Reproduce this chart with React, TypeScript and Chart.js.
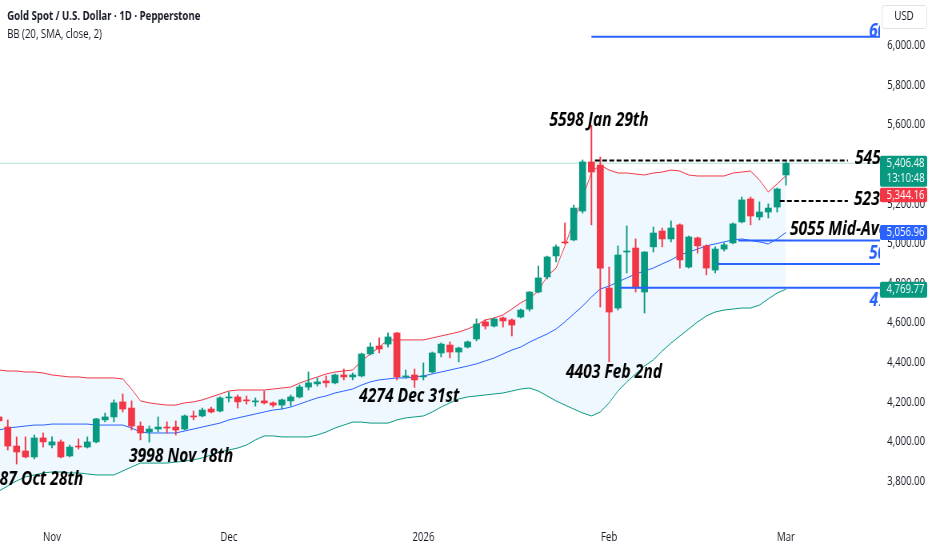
import React, { useEffect, useRef } from 'react';
import { Chart, registerables } from 'chart.js';

Chart.register(...registerables);

// ---------- data ----------
const dates = [
  '2025-10-24', '2025-10-27', '2025-10-28', '2025-10-29', '2025-10-30', '2025-10-31',
  '2025-11-03', '2025-11-04', '2025-11-05', '2025-11-06', '2025-11-07', '2025-11-10', '2025-11-11', '2025-11-12', '2025-11-13', '2025-11-14',
  '2025-11-17', '2025-11-18', '2025-11-19', '2025-11-20', '2025-11-21', '2025-11-24', '2025-11-25', '2025-11-26', '2025-11-27', '2025-11-28',
  '2025-12-01', '2025-12-02', '2025-12-03', '2025-12-04', '2025-12-05', '2025-12-08', '2025-12-09', '2025-12-10', '2025-12-11', '2025-12-12',
  '2025-12-15', '2025-12-16', '2025-12-17', '2025-12-18', '2025-12-19', '2025-12-22', '2025-12-23', '2025-12-24', '2025-12-26', '2025-12-29',
  '2025-12-30', '2025-12-31',
  '2026-01-02', '2026-01-05', '2026-01-06', '2026-01-07', '2026-01-08', '2026-01-09', '2026-01-12', '2026-01-13', '2026-01-14', '2026-01-15',
  '2026-01-16', '2026-01-19', '2026-01-20', '2026-01-21', '2026-01-22', '2026-01-23', '2026-01-26', '2026-01-27', '2026-01-28', '2026-01-29',
  '2026-01-30',
  '2026-02-02', '2026-02-03', '2026-02-04', '2026-02-05', '2026-02-06', '2026-02-09', '2026-02-10', '2026-02-11', '2026-02-12', '2026-02-13',
  '2026-02-16', '2026-02-17', '2026-02-18', '2026-02-19', '2026-02-20', '2026-02-23', '2026-02-24', '2026-02-25', '2026-02-26', '2026-02-27',
  '2026-03-02',
];

const opens = [
  4125, 4074, 3978, 3953, 3923, 4019, 3983, 3999, 3928, 3978,
  3973, 3999, 4110, 4125, 4201, 4170, 4079, 4049, 4064, 4074,
  4074, 4064, 4130, 4130, 4165, 4155, 4221, 4226, 4211, 4201,
  4206, 4196, 4185, 4206, 4226, 4276, 4292, 4307, 4297, 4337,
  4327, 4332, 4443, 4483, 4493, 4549, 4327, 4337, 4327, 4352,
  4448, 4488, 4453, 4478, 4519, 4605, 4584, 4625, 4615, 4630,
  4670, 4756, 4832, 4938, 5009, 5019, 5165, 5413, 5397, 4776,
  4675, 4958, 4978, 4756, 4984, 5064, 5024, 5095, 4882, 5029,
  4989, 4867, 4973, 5004, 5110, 5226, 5135, 5160, 5185, 5347,
];
const highs = [
  4145, 4110, 4024, 4024, 4034, 4044, 4024, 4009, 3983, 4014,
  4024, 4118, 4145, 4211, 4241, 4206, 4100, 4079, 4125, 4100,
  4105, 4135, 4155, 4170, 4175, 4226, 4251, 4236, 4231, 4221,
  4256, 4201, 4216, 4236, 4286, 4352, 4322, 4332, 4342, 4367,
  4347, 4448, 4499, 4524, 4549, 4552, 4362, 4367, 4398, 4453,
  4499, 4504, 4478, 4509, 4620, 4615, 4625, 4630, 4620, 4670,
  4758, 4887, 4938, 4994, 5105, 5195, 5423, 5598, 5438, 4882,
  4989, 5090, 5024, 4960, 5084, 5079, 5115, 5100, 5039, 5034,
  4994, 4984, 5004, 5105, 5236, 5236, 5211, 5201, 5281, 5413,
];
const lows = [
  4084, 3958, 3887, 3918, 3913, 3973, 3968, 3918, 3923, 3963,
  3968, 3994, 4100, 4100, 4150, 4059, 4009, 3998, 4049, 4044,
  4034, 4059, 4110, 4125, 4145, 4150, 4201, 4170, 4190, 4180,
  4190, 4175, 4165, 4180, 4221, 4261, 4281, 4276, 4292, 4312,
  4312, 4327, 4438, 4448, 4478, 4312, 4322, 4274, 4312, 4347,
  4428, 4423, 4403, 4473, 4509, 4569, 4579, 4579, 4534, 4625,
  4660, 4751, 4822, 4908, 4999, 5014, 5155, 5095, 4680, 4403,
  4665, 4852, 4756, 4650, 4958, 4984, 5009, 4877, 4877, 4953,
  4842, 4852, 4963, 4999, 5105, 5095, 5120, 5130, 5160, 5296,
];
const closes = [
  4105, 3978, 3948, 3923, 4019, 3999, 3999, 3923, 3973, 3973,
  3999, 4115, 4125, 4196, 4165, 4079, 4044, 4064, 4074, 4069,
  4059, 4130, 4125, 4160, 4150, 4221, 4226, 4201, 4206, 4206,
  4196, 4185, 4211, 4226, 4276, 4297, 4302, 4297, 4337, 4327,
  4337, 4443, 4478, 4468, 4529, 4327, 4332, 4312, 4332, 4448,
  4493, 4453, 4473, 4504, 4594, 4584, 4620, 4610, 4589, 4665,
  4756, 4827, 4933, 4984, 5004, 5180, 5413, 5362, 4877, 4655,
  4943, 4963, 4776, 4958, 5054, 5024, 5079, 4918, 5034, 4989,
  4877, 4973, 4994, 5100, 5221, 5140, 5160, 5180, 5276, 5406.48,
];

// Bollinger Bands (20, SMA, close, 2)
const bbUpper = [
  4362, 4357, 4357, 4352, 4352, 4347, 4337, 4332, 4327, 4327,
  4322, 4322, 4322, 4322, 4317, 4266, 4206, 4196, 4190, 4185,
  4185, 4196, 4201, 4211, 4226, 4241, 4256, 4261, 4261, 4261,
  4261, 4266, 4271, 4276, 4296, 4312, 4327, 4342, 4352, 4357,
  4362, 4408, 4443, 4478, 4514, 4514, 4514, 4514, 4514, 4524,
  4534, 4544, 4554, 4569, 4589, 4615, 4625, 4640, 4670, 4701,
  4726, 4761, 4837, 4877, 4988, 5115, 5226, 5362, 5397, 5372,
  5357, 5357, 5352, 5347, 5357, 5362, 5372, 5367, 5347, 5342,
  5342, 5342, 5342, 5357, 5362, 5367, 5322, 5261, 5302, 5344.16,
];
const bbBasis = [
  4059, 4069, 4074, 4079, 4084, 4084, 4089, 4089, 4089, 4089,
  4089, 4084, 4084, 4084, 4084, 4069, 4049, 4044, 4044, 4044,
  4044, 4054, 4064, 4074, 4084, 4094, 4110, 4120, 4130, 4140,
  4150, 4160, 4165, 4175, 4190, 4206, 4221, 4231, 4246, 4256,
  4266, 4286, 4302, 4312, 4317, 4322, 4322, 4327, 4332, 4342,
  4352, 4362, 4372, 4382, 4393, 4408, 4423, 4443, 4463, 4478,
  4503, 4524, 4544, 4569, 4605, 4645, 4685, 4731, 4771, 4786,
  4807, 4827, 4847, 4862, 4877, 4898, 4918, 4943, 4958, 4973,
  4989, 4999, 5009, 5019, 5024, 5016, 5009, 4999, 5024, 5056.96,
];
const bbLower = [
  3751, 3776, 3802, 3822, 3832, 3842, 3847, 3847, 3842, 3842,
  3837, 3832, 3832, 3832, 3852, 3872, 3892, 3892, 3892, 3892,
  3897, 3902, 3908, 3918, 3933, 3948, 3958, 3968, 3983, 4009,
  4029, 4029, 4024, 4024, 4024, 4024, 4034, 4049, 4069, 4084,
  4099, 4099, 4094, 4094, 4094, 4110, 4120, 4125, 4130, 4150,
  4175, 4196, 4216, 4226, 4231, 4236, 4241, 4246, 4256, 4266,
  4271, 4256, 4231, 4206, 4185, 4165, 4145, 4130, 4150, 4196,
  4256, 4302, 4342, 4382, 4413, 4458, 4498, 4534, 4569, 4605,
  4635, 4655, 4665, 4670, 4675, 4675, 4690, 4721, 4751, 4769.77,
];

const yTickValues = [3800, 4000, 4200, 4400, 4600, 4800, 5000, 5200, 5400, 5600, 5800, 6000];
const monthNames = ['Jan', 'Feb', 'Mar', 'Apr', 'May', 'Jun', 'Jul', 'Aug', 'Sep', 'Oct', 'Nov', 'Dec'];

const lastPrice = 5406.48;
const countdown = '13:10:48';

// drawn horizontal levels (price, from bar index, to bar index)
const levelPrices = [6045, 5420, 5216, 5016, 4898, 4777];
const levelFrom = [67, 67.4, 88.3, 83.6, 81.3, 70.2];
const levelTo = [100, 96, 96, 100, 100, 100];
const levelDashed = [false, true, true, false, false, false];

// text notes: text, anchor bar index, anchor price
const noteTexts = ['5598 Jan 29th', '4403 Feb 2nd', '4274 Dec 31st', '3998 Nov 18th', '3887 Oct 28th', '5450', '5230', '5055 Mid-Average', '6050', '5000', '4780'];
const noteAt = [67.86, 69.55, 46.4, 20.6, 9.54, 96.8, 96.7, 89.45, 98.39, 98.39, 98.45];
const notePrice = [5625, 4352, 4231, 3928, 3811, 5430, 5226, 5074, 6074, 4953, 4711];

// ---------- styles / layout ----------
const GREEN = '#089981';
const RED = '#F23645';
const BLUE = '#2962FF';
const TEXT = '#131722';
const FONT = '"Open Sans", "Noto Sans", sans-serif';
const SX = 0.8; // horizontal squeeze of the picture
const W = 1165;
const H = 550;
const AXIS_W = 65;
const X_MIN = 0.12;
const X_MAX = 99.63;
const Y_MIN = 3594.4;
const Y_MAX = 6230.8;

const noteAlign = ['center', 'center', 'center', 'center', 'right', 'left', 'left', 'left', 'left', 'left', 'left'];
const noteBlue = [false, false, false, false, false, false, false, false, true, true, true];

const monthStarts = dates
  .map((d, i) => (i > 0 && d.slice(5, 7) !== dates[i - 1].slice(5, 7) ? i : -1))
  .filter((i) => i >= 0);
const monthLabel = (i: number) => {
  const d = dates[i];
  if (!d) return '';
  const m = Number(d.slice(5, 7)) - 1;
  return m === 0 ? d.slice(0, 4) : monthNames[m];
};
const fmt = (v: number) => v.toLocaleString('en-US', { minimumFractionDigits: 2, maximumFractionDigits: 2 });

const candleColor = (ctx: any) => {
  const i = ctx.dataIndex;
  return closes[i] >= opens[i] ? GREEN : RED;
};

const overlay = {
  id: 'overlay',
  afterDraw(chart: any) {
    const { ctx, chartArea: ca, scales } = chart;
    const x = scales.x;
    const y = scales.y;
    ctx.save();

    // notes, clipped to the plot
    ctx.save();
    ctx.beginPath();
    ctx.rect(ca.left, ca.top, ca.right - ca.left, ca.bottom - ca.top);
    ctx.clip();
    ctx.font = `italic 700 19.5px ${FONT}`;
    ctx.textBaseline = 'middle';
    noteTexts.forEach((t, i) => {
      ctx.fillStyle = noteBlue[i] ? BLUE : '#000000';
      ctx.textAlign = noteAlign[i];
      ctx.fillText(t, x.getPixelForValue(noteAt[i]), y.getPixelForValue(notePrice[i]));
    });
    ctx.restore();

    // header
    ctx.textAlign = 'left';
    ctx.textBaseline = 'middle';
    ctx.fillStyle = TEXT;
    ctx.font = `700 12px ${FONT}`;
    ctx.fillText('Gold Spot / U.S. Dollar · 1D · Pepperstone', 9, 17);
    ctx.font = `400 12px ${FONT}`;
    ctx.fillText('BB (20, SMA, close, 2)', 9, 35);

    // price-axis badges
    const bx = ca.right;
    const bw = 59;
    const cx = ca.right + 32;
    const badge = (top: number, h: number, color: string) => {
      ctx.fillStyle = color;
      ctx.beginPath();
      (ctx as any).roundRect ? ctx.roundRect(bx, top, bw, h, 2) : ctx.rect(bx, top, bw, h);
      ctx.fill();
    };
    ctx.font = `400 12px ${FONT}`;
    ctx.textAlign = 'center';
    const yl = y.getPixelForValue(lastPrice);
    badge(yl - 7.5, 31, GREEN);
    ctx.fillStyle = '#ffffff';
    ctx.fillText(fmt(lastPrice), cx, yl + 0.5);
    ctx.fillText(countdown, cx, yl + 15.5);
    const redTop = yl + 24.5;
    badge(redTop, 14.5, RED);
    ctx.fillStyle = '#ffffff';
    ctx.fillText(fmt(bbUpper[bbUpper.length - 1]), cx, redTop + 7.5);
    const yb = y.getPixelForValue(bbBasis[bbBasis.length - 1]);
    badge(yb - 7.5, 15, BLUE);
    ctx.fillStyle = '#ffffff';
    ctx.fillText(fmt(bbBasis[bbBasis.length - 1]), cx, yb + 0.5);
    const ylo = y.getPixelForValue(bbLower[bbLower.length - 1]);
    badge(ylo - 7.5, 16, GREEN);
    ctx.fillStyle = '#ffffff';
    ctx.fillText(fmt(bbLower[bbLower.length - 1]), cx, ylo + 0.5);

    // currency box
    ctx.fillStyle = '#ffffff';
    ctx.strokeStyle = '#E0E3EB';
    ctx.lineWidth = 1;
    ctx.beginPath();
    (ctx as any).roundRect ? ctx.roundRect(ca.right + 2.5, 5.5, 56, 23, 3) : ctx.rect(ca.right + 2.5, 5.5, 56, 23);
    ctx.fill();
    ctx.stroke();
    ctx.fillStyle = TEXT;
    ctx.fillText('USD', ca.right + 30, 17);

    ctx.restore();
  },
};

export default function App() {
  const ref = useRef<HTMLCanvasElement>(null);

  useEffect(() => {
    const idx = dates.map((_, i) => i);
    const lineDs = (vals: number[], color: string, extra: any = {}) => ({
      type: 'line',
      data: idx.map((i) => ({ x: i, y: vals[i] })),
      borderColor: color,
      borderWidth: 1,
      pointRadius: 0,
      tension: 0,
      fill: false,
      order: 10,
      ...extra,
    });

    const levelSets = levelPrices.map((p, k) => ({
      type: 'line',
      data: [
        { x: levelFrom[k], y: p },
        { x: levelTo[k], y: p },
      ],
      borderColor: levelDashed[k] ? '#000000' : BLUE,
      borderDash: levelDashed[k] ? [6, 3] : [],
      borderWidth: 2,
      pointRadius: 0,
      fill: false,
      order: 0,
    }));

    const chart = new Chart(ref.current as HTMLCanvasElement, {
      type: 'bar',
      data: {
        datasets: [
          lineDs(bbUpper, RED),
          lineDs(bbBasis, BLUE),
          lineDs(bbLower, GREEN, { fill: '-2', backgroundColor: 'rgba(33,150,243,0.07)' }),
          {
            type: 'line',
            data: [
              { x: X_MIN, y: lastPrice },
              { x: X_MAX, y: lastPrice },
            ],
            borderColor: 'rgba(8,153,129,0.3)',
            borderWidth: 1,
            pointRadius: 0,
            fill: false,
            order: 9,
          },
          {
            type: 'bar',
            data: idx.map((i) => ({ x: i, y: [lows[i], highs[i]] })),
            backgroundColor: candleColor,
            barThickness: 1.25,
            grouped: false,
            borderWidth: 0,
            minBarLength: 1,
            order: 2,
          },
          {
            type: 'bar',
            data: idx.map((i) => ({ x: i, y: [opens[i], closes[i]] })),
            backgroundColor: candleColor,
            barThickness: 8,
            grouped: false,
            borderWidth: 0,
            minBarLength: 1,
            order: 1,
          },
          ...levelSets,
        ] as any,
      },
      options: {
        responsive: false,
        maintainAspectRatio: false,
        animation: false,
        events: [],
        layout: { padding: 0 },
        plugins: { legend: { display: false }, tooltip: { enabled: false } },
        scales: {
          x: {
            type: 'linear',
            min: X_MIN,
            max: X_MAX,
            offset: false,
            grid: { display: false, drawTicks: false },
            border: { display: false },
            afterBuildTicks: (s: any) => {
              s.ticks = monthStarts.map((v) => ({ value: v }));
            },
            afterFit: (s: any) => {
              s.height = 28;
              s.paddingLeft = 0;
              s.paddingRight = 0;
            },
            ticks: {
              autoSkip: false,
              maxRotation: 0,
              padding: 8,
              color: TEXT,
              font: { family: FONT, size: 12 },
              callback: (v: any) => monthLabel(Number(v)),
            },
          },
          y: {
            type: 'linear',
            position: 'right',
            min: Y_MIN,
            max: Y_MAX,
            grid: { display: false, drawTicks: false },
            border: { display: false },
            afterBuildTicks: (s: any) => {
              s.ticks = yTickValues.map((v) => ({ value: v }));
            },
            afterFit: (s: any) => {
              s.width = AXIS_W;
              s.paddingTop = 0;
              s.paddingBottom = 0;
            },
            ticks: {
              padding: 9,
              color: TEXT,
              font: { family: FONT, size: 12 },
              callback: (v: any) => fmt(Number(v)),
            },
          },
        },
      } as any,
      plugins: [overlay as any],
    });
    return () => chart.destroy();
  }, []);

  return (
    <div style={{ position: 'fixed', left: 0, top: 0, width: 932, height: H, overflow: 'hidden', background: '#ffffff' }}>
      <div style={{ width: W, height: H, transform: `scaleX(${SX})`, transformOrigin: '0 0' }}>
        <canvas ref={ref} width={W} height={H} style={{ width: W, height: H, display: 'block' }} />
      </div>
    </div>
  );
}
